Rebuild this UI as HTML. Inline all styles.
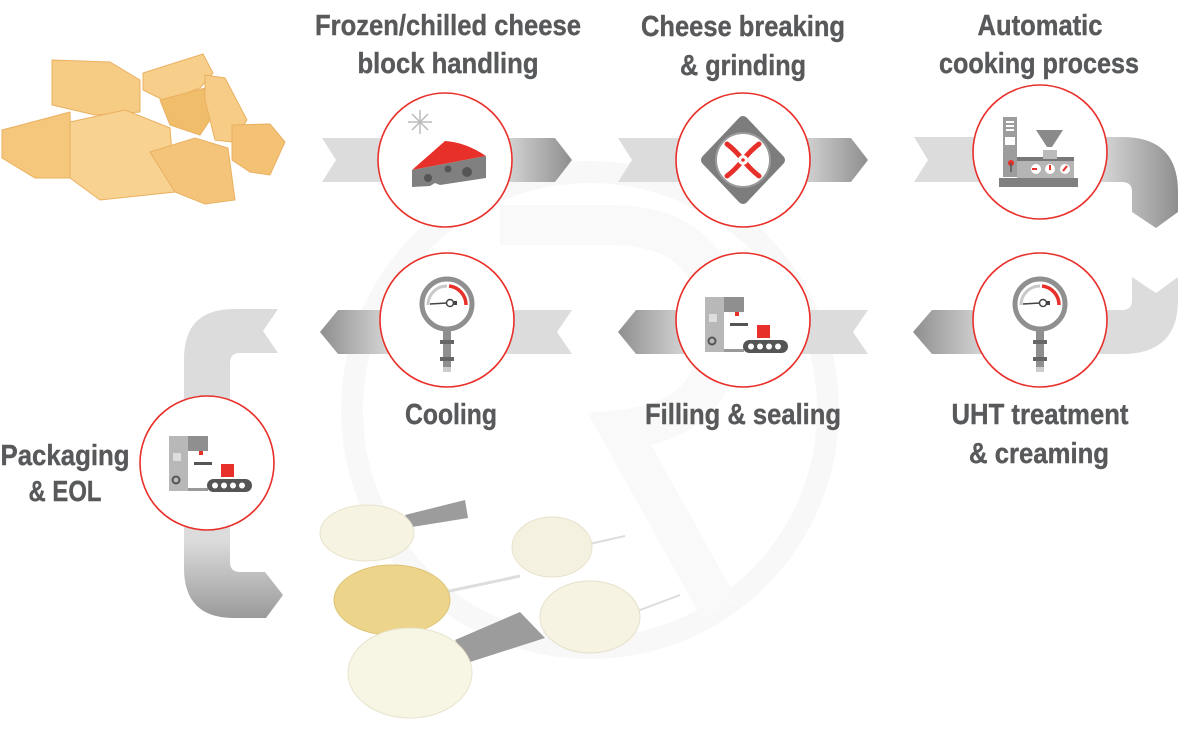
<!DOCTYPE html>
<html><head><meta charset="utf-8"><style>
html,body{margin:0;padding:0;background:#fff;width:1179px;height:732px;overflow:hidden}
svg{display:block}
text{font-family:"Liberation Sans",sans-serif;font-weight:bold;fill:#58595b;font-size:29px;stroke:#58595b;stroke-width:0.4}
</style></head><body>
<svg width="1179" height="732" viewBox="0 0 1179 732" xmlns="http://www.w3.org/2000/svg">
<defs>
<linearGradient id="gR1" gradientUnits="userSpaceOnUse" x1="500" y1="0" x2="572" y2="0"><stop offset="0" stop-color="#dcdcdc"/><stop offset="1" stop-color="#8e8e8e"/></linearGradient>
<linearGradient id="gR2" gradientUnits="userSpaceOnUse" x1="796" y1="0" x2="868" y2="0"><stop offset="0" stop-color="#dcdcdc"/><stop offset="1" stop-color="#8e8e8e"/></linearGradient>
<linearGradient id="gR3" gradientUnits="userSpaceOnUse" x1="1095" y1="0" x2="1179" y2="0"><stop offset="0" stop-color="#dcdcdc"/><stop offset="1" stop-color="#8e8e8e"/></linearGradient>
<linearGradient id="gL1" gradientUnits="userSpaceOnUse" x1="320" y1="0" x2="395" y2="0"><stop offset="0" stop-color="#8e8e8e"/><stop offset="1" stop-color="#dcdcdc"/></linearGradient>
<linearGradient id="gL2" gradientUnits="userSpaceOnUse" x1="618" y1="0" x2="693" y2="0"><stop offset="0" stop-color="#8e8e8e"/><stop offset="1" stop-color="#dcdcdc"/></linearGradient>
<linearGradient id="gL3" gradientUnits="userSpaceOnUse" x1="913" y1="0" x2="990" y2="0"><stop offset="0" stop-color="#8e8e8e"/><stop offset="1" stop-color="#dcdcdc"/></linearGradient>
<linearGradient id="gB" gradientUnits="userSpaceOnUse" x1="0" y1="540" x2="0" y2="618"><stop offset="0" stop-color="#dcdcdc"/><stop offset="1" stop-color="#9a9a9a"/></linearGradient>
</defs>

<!-- watermark -->
<circle cx="590" cy="410" r="238" fill="none" stroke="#f8f8f8" stroke-width="22"/>
<path d="M500,225 L610,225 Q720,225 720,330 Q720,420 620,430 L720,610" fill="none" stroke="#f9f9f9" stroke-width="40"/>

<!-- row 1 arrows -->
<path d="M322,138 L555,138 L572,160 L555,182 L322,182 L336,160 Z" fill="url(#gR1)"/>
<path d="M618,138 L851,138 L868,160 L851,182 L618,182 L632,160 Z" fill="url(#gR2)"/>
<path d="M914,137 L1122,137 Q1178,137 1178,192 L1178,212 L1156,228 L1132,212 L1132,192 Q1132,182 1122,182 L914,182 L928,160 Z" fill="url(#gR3)"/>
<!-- row 2 arrows -->
<path d="M1132,277 L1156,293 L1178,277 L1178,300 Q1178,354 1122,354 L932,354 L913,332 L932,310 L1122,310 Q1132,310 1132,300 Z" fill="url(#gL3)"/>
<path d="M868,310 L853,332 L868,354 L636,354 L618,332 L636,310 Z" fill="url(#gL2)"/>
<path d="M572,310 L557,332 L572,354 L338,354 L320,332 L338,310 Z" fill="url(#gL1)"/>
<!-- left bracket -->
<path d="M278,309 L263,331 L278,353 L240,353 Q230,353 230,363 L230,562 Q230,572 240,572 L265,572 L283,595 L266,618 L234,618 Q184,618 184,568 L184,359 Q184,309 234,309 Z" fill="url(#gB)"/>

<!-- circles -->
<g fill="#fff" stroke="#e8302a" stroke-width="1.6">
<circle cx="445" cy="160" r="67"/>
<circle cx="743" cy="160" r="67"/>
<circle cx="1040" cy="152" r="67"/>
<circle cx="447" cy="320" r="67"/>
<circle cx="743" cy="320" r="67"/>
<circle cx="1040" cy="320" r="67"/>
<circle cx="207" cy="463" r="67"/>
</g>

<!-- icon: cheese -->
<g>
<g stroke="#bbb" stroke-width="1.5"><line x1="420" y1="110" x2="420" y2="134"/><line x1="408" y1="122" x2="432" y2="122"/><line x1="412" y1="114" x2="428" y2="130"/><line x1="428" y1="114" x2="412" y2="130"/></g>
<path d="M412,170 L445,141 Q465,142 486,156 Z" fill="#e8302a"/>
<path d="M412,170 L486,156 L486,178 L440,185 L435,183 L430,186 L412,187 Z" fill="#808080"/>
<circle cx="428" cy="178" r="4" fill="#555"/><circle cx="448" cy="169" r="3.5" fill="#555"/><circle cx="467" cy="172" r="5" fill="#555"/>
</g>
<!-- icon: grinder -->
<g>
<path d="M743,121 L780,160 L743,199 L706,160 Z" fill="#7d7d7d" stroke="#7d7d7d" stroke-width="10" stroke-linejoin="round"/>
<circle cx="743" cy="160" r="27" fill="#fff" stroke="#9a9a9a" stroke-width="2"/>
<g stroke="#e8302a" stroke-width="5" stroke-linecap="round"><path d="M727,144 Q735,150 743,160 Q751,170 759,176"/><path d="M759,144 Q751,150 743,160 Q735,170 727,176"/></g>
<circle cx="743" cy="160" r="5" fill="#fff"/><circle cx="743" cy="160" r="1.8" fill="#e8302a"/>
</g>
<!-- icon: cooking machine -->
<g>
<rect x="1003" y="117" width="14" height="60" fill="#9d9d9d"/>
<rect x="1006" y="121" width="8" height="2" fill="#fff"/><rect x="1006" y="125" width="8" height="2" fill="#fff"/><rect x="1006" y="129" width="8" height="2" fill="#fff"/>
<rect x="1005" y="137" width="10" height="8" fill="#fff"/>
<rect x="1017" y="158" width="57" height="20" fill="#b5b5b5"/>
<rect x="1017" y="157" width="57" height="4" fill="#777"/>
<path d="M1036,130 L1063,130 L1052,147 L1047,147 Z" fill="#8a8a8a"/>
<rect x="1043" y="150" width="14" height="9" fill="#bbb"/>
<circle cx="1036" cy="169" r="5" fill="#fff"/><circle cx="1050" cy="169" r="5" fill="#fff"/><circle cx="1065" cy="169" r="5" fill="#fff"/>
<g stroke="#e8302a" stroke-width="2"><line x1="1032" y1="169" x2="1037" y2="169"/><line x1="1050" y1="165" x2="1050" y2="170"/><line x1="1063" y1="171" x2="1067" y2="166"/></g>
<circle cx="1011" cy="163" r="3" fill="#e8302a"/><line x1="1011" y1="163" x2="1011" y2="172" stroke="#555" stroke-width="1.5"/>
<rect x="999" y="178" width="79" height="9" fill="#808080"/>
</g>
<!-- gauges -->
<g id="gauge">
<circle cx="447" cy="304" r="25" fill="#fff" stroke="#8f8f8f" stroke-width="5"/>
<path d="M428,305 A19,19 0 0 1 447,286" fill="none" stroke="#c8c8c8" stroke-width="3"/>
<path d="M449,286 A19,19 0 0 1 466,305" fill="none" stroke="#e8302a" stroke-width="3.5"/>
<line x1="430" y1="304" x2="447" y2="303" stroke="#444" stroke-width="1.5"/>
<circle cx="450" cy="303" r="3.5" fill="#fff" stroke="#444" stroke-width="1.5"/>
<rect x="453" y="301" width="4" height="4" fill="#444"/>
<rect x="443" y="329" width="8" height="38" fill="#8f8f8f"/>
<rect x="440" y="340" width="14" height="4" fill="#666"/><rect x="440" y="357" width="14" height="4" fill="#666"/>
<rect x="443" y="367" width="8" height="5" fill="#ccc"/>
</g>
<use href="#gauge" x="593" y="0"/>
<!-- packaging icons -->
<g id="pack">
<rect x="705" y="297" width="19" height="55" fill="#b8b8b8"/>
<rect x="724" y="297" width="20" height="15" fill="#8f8f8f"/>
<rect x="709" y="314" width="8" height="8" fill="#ddd"/>
<rect x="724" y="312" width="10" height="10" fill="#fff"/>
<rect x="735" y="312" width="4" height="4" fill="#e8302a"/>
<rect x="730" y="323" width="18" height="3" fill="#555"/>
<circle cx="712" cy="341" r="3.5" fill="none" stroke="#555" stroke-width="2"/>
<rect x="757" y="325" width="13" height="13" fill="#e8302a"/>
<rect x="724" y="349" width="20" height="3" fill="#999"/>
<rect x="743" y="340" width="45" height="13" rx="6.5" fill="#555"/>
<circle cx="751" cy="346.5" r="3" fill="#fff"/><circle cx="760" cy="346.5" r="3" fill="#fff"/><circle cx="769" cy="346.5" r="3" fill="#fff"/><circle cx="778" cy="346.5" r="3" fill="#fff"/>
</g>
<use href="#pack" x="-536" y="139"/>

<!-- labels -->
<text x="448" y="35" text-anchor="middle" textLength="266" lengthAdjust="spacingAndGlyphs">Frozen/chilled cheese</text>
<text x="448" y="73" text-anchor="middle" textLength="181" lengthAdjust="spacingAndGlyphs">block handling</text>
<text x="743" y="36" text-anchor="middle" textLength="204" lengthAdjust="spacingAndGlyphs">Cheese breaking</text>
<text x="743" y="75" text-anchor="middle" textLength="126" lengthAdjust="spacingAndGlyphs">&amp; grinding</text>
<text x="1040" y="35" text-anchor="middle" textLength="125" lengthAdjust="spacingAndGlyphs">Automatic</text>
<text x="1039" y="73" text-anchor="middle" textLength="200" lengthAdjust="spacingAndGlyphs">cooking process</text>
<text x="451" y="424" text-anchor="middle" textLength="92" lengthAdjust="spacingAndGlyphs">Cooling</text>
<text x="743" y="424" text-anchor="middle" textLength="196" lengthAdjust="spacingAndGlyphs">Filling &amp; sealing</text>
<text x="1040" y="424" text-anchor="middle" textLength="177" lengthAdjust="spacingAndGlyphs">UHT treatment</text>
<text x="1039" y="463" text-anchor="middle" textLength="140" lengthAdjust="spacingAndGlyphs">&amp; creaming</text>
<text x="65" y="465" text-anchor="middle" textLength="129" lengthAdjust="spacingAndGlyphs">Packaging</text>
<text x="65" y="501" text-anchor="middle" textLength="73" lengthAdjust="spacingAndGlyphs">&amp; EOL</text>

<!-- cheese chunks -->
<g stroke="#eab060" stroke-width="1">
<polygon points="52,60 110,62 140,80 140,112 95,115 52,105" fill="#f6cc85"/>
<polygon points="143,73 203,54 213,73 200,88 165,101 143,90" fill="#f7cf8a"/>
<polygon points="160,100 205,88 210,120 200,135 170,125" fill="#f0bd6a"/>
<polygon points="205,75 225,78 247,120 232,142 215,140 205,100" fill="#f6cc86"/>
<polygon points="232,125 270,124 285,142 270,175 250,172 232,160" fill="#f3c274"/>
<polygon points="2,130 70,112 72,178 35,178 2,158" fill="#f5c77c"/>
<polygon points="70,122 125,110 170,128 175,192 100,200 70,178" fill="#f8d290"/>
<polygon points="150,152 195,138 228,148 235,200 205,204 175,192" fill="#f4c47a"/>
</g>

<!-- bottom cheese products -->
<polygon points="405,515 465,500 468,518 412,527" fill="#9c9c9c"/>
<polyline points="585,545 625,536" fill="none" stroke="#ddd" stroke-width="2"/>
<polyline points="445,592 520,576" fill="none" stroke="#ddd" stroke-width="3"/>
<polyline points="635,612 680,595" fill="none" stroke="#ddd" stroke-width="2"/>
<polygon points="455,640 520,612 545,638 470,662" fill="#9c9c9c"/>
<ellipse cx="367" cy="533" rx="47" ry="28" fill="#f6f3e2" stroke="#e8e3cc"/>
<ellipse cx="552" cy="547" rx="40" ry="30" fill="#f5f1e1" stroke="#e6e1cb"/>
<ellipse cx="392" cy="600" rx="58" ry="35" fill="#ecd48a" stroke="#ddc272"/>
<ellipse cx="590" cy="617" rx="50" ry="36" fill="#f6f3e3" stroke="#e6e1cb"/>
<ellipse cx="410" cy="673" rx="62" ry="45" fill="#f7f5e4" stroke="#e8e3cc"/>
</svg>
</body></html>
